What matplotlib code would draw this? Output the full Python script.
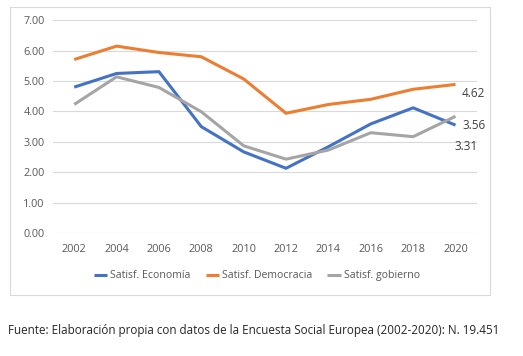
import matplotlib
matplotlib.use("Agg")
import matplotlib.pyplot as plt
from matplotlib.patches import Rectangle

years = ["2002", "2004", "2006", "2008", "2010", "2012", "2014", "2016", "2018", "2020"]
economia = [4.80, 5.25, 5.31, 3.50, 2.67, 2.13, 2.84, 3.59, 4.12, 3.55]
democracia = [5.71, 6.15, 5.94, 5.80, 5.07, 3.94, 4.23, 4.40, 4.73, 4.89]
gobierno = [4.23, 5.14, 4.79, 3.99, 2.87, 2.43, 2.73, 3.30, 3.17, 3.84]
yticks = [0, 1, 2, 3, 4, 5, 6, 7]
end_labels = ["3.56", "4.62", "3.31"]
series_names = ["Satisf. Economía", "Satisf. Democracia", "Satisf. gobierno"]
source = "Fuente: Elaboración propia con datos de la Encuesta Social Europea (2002-2020): N. 19.451"

plt.rcParams['font.family'] = ['Open Sans', 'DejaVu Sans']

fig = plt.figure(figsize=(5.23, 3.56), dpi=100)
fig.patch.set_facecolor("white")
fig.add_artist(Rectangle((10/523, 1-295/356), 480/523, 288/356, transform=fig.transFigure,
                         fill=False, edgecolor="#d9d9d9", lw=0.8))

ax = fig.add_axes([53/523, 1-233/356, (476.7-53)/523, (233-20.3)/356])
x = list(range(len(years)))
colors = ["#4472c4", "#ed7d31", "#a5a5a5"]
data = [economia, democracia, gobierno]
lines = []
for vals, c, n in zip(data, colors, series_names):
    l, = ax.plot(x, vals, color=c, lw=2.2, label=n, solid_joinstyle="round", solid_capstyle="butt", zorder=3)
    lines.append(l)

ax.set_xlim(-0.5, len(years) - 0.5)
ax.set_ylim(0, 7)
ax.set_yticks(yticks)
ax.set_yticklabels([f"{v:.2f}" for v in yticks])
ax.set_xticks(x)
ax.set_xticklabels(years)
ax.grid(axis="y", color="#d9d9d9", lw=0.8)
ax.set_axisbelow(True)
for s in ax.spines.values():
    s.set_visible(False)
ax.tick_params(axis="both", length=0, labelsize=7.8, labelcolor="#595959")
ax.tick_params(axis="y", pad=6)
ax.tick_params(axis="x", pad=8)

# end labels
offsets = [(5, -0.5), (4.5, -6.5), (-0.7, -21.5)]
for vals, lab, off in zip(data, end_labels, offsets):
    ax.annotate(lab, xy=(x[-1], vals[-1]), xytext=off, textcoords="offset points",
                ha="left", va="center", fontsize=8.5, color="#404040")

fig.legend(handles=lines, labels=series_names, loc="center", bbox_to_anchor=(257/523, 1-275.7/356),
           ncol=3, frameon=False, fontsize=7.6, handlelength=1.3, handletextpad=0.3,
           columnspacing=1.4, labelcolor="#595959")

fig.text(8/523, 1-330.7/356, source, fontsize=8.4, color="#262626", ha="left", va="center")

fig.savefig("out.png", dpi=100)
